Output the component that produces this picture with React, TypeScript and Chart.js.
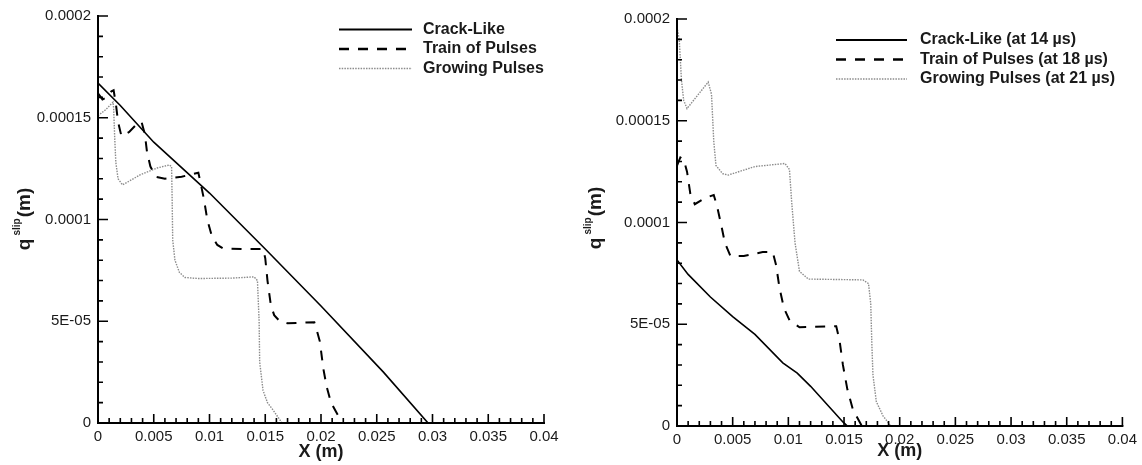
import React, { useEffect, useRef } from 'react';
import { Chart, registerables } from 'chart.js';

Chart.register(...registerables);

// ---------- axis ticks ----------
const xTickValues = [0, 0.005, 0.01, 0.015, 0.02, 0.025, 0.03, 0.035, 0.04];
const xTickLabels = ['0', '0.005', '0.01', '0.015', '0.02', '0.025', '0.03', '0.035', '0.04'];
const yTickValues = [0, 0.00005, 0.0001, 0.00015, 0.0002];
const yTickLabels = ['0', '5E-05', '0.0001', '0.00015', '0.0002'];
const xMinorCount = 40; // minor ticks every 0.001
const yMinorCount = 20; // minor ticks every 0.00001

// ---------- left panel ----------
const leftLabels = ['Crack-Like', 'Train of Pulses', 'Growing Pulses'];

const leftCrackX = [0, 0.002, 0.005, 0.01, 0.015, 0.02, 0.0256, 0.0296];
const leftCrackY = [0.000167, 0.000156, 0.000138, 0.000113, 0.0000855, 0.0000575, 0.000025, 0];

const leftTrainX = [0, 0.0004, 0.0008, 0.0012, 0.0014, 0.0016, 0.0018, 0.0021, 0.0028, 0.0035, 0.0039, 0.0042, 0.0044, 0.0047, 0.0052, 0.006, 0.0075, 0.009, 0.0092, 0.0095, 0.0098, 0.0102, 0.0107, 0.0112, 0.013, 0.0148, 0.015, 0.0152, 0.0155, 0.0158, 0.0163, 0.017, 0.0194, 0.0196, 0.0199, 0.0202, 0.0205, 0.0209, 0.0215, 0.022];
const leftTrainY = [0.000162, 0.000159, 0.00016, 0.000163, 0.0001635, 0.000157, 0.000148, 0.000141, 0.000143, 0.000147, 0.000148, 0.000142, 0.000133, 0.000126, 0.000121, 0.00012, 0.000121, 0.000123, 0.000118, 0.00011, 0.0001, 0.000092, 0.0000875, 0.0000858, 0.0000855, 0.0000855, 0.000081, 0.00007, 0.000058, 0.000053, 0.00005, 0.000049, 0.0000495, 0.000046, 0.00004, 0.000027, 0.000018, 0.00001, 0.000004, 0];

const leftGrowX = [0, 0.0007, 0.00135, 0.0014, 0.0015, 0.0016, 0.0018, 0.0022, 0.003, 0.0038, 0.0053, 0.0064, 0.0066, 0.00665, 0.0067, 0.0069, 0.0073, 0.0078, 0.009, 0.012, 0.014, 0.0143, 0.01445, 0.0145, 0.0148, 0.0152, 0.0157, 0.0165];
const leftGrowY = [0.000151, 0.000154, 0.0001577, 0.000155, 0.00014, 0.000128, 0.00012, 0.000117, 0.0001195, 0.000122, 0.0001253, 0.0001268, 0.000126, 0.00011, 0.00009, 0.00008, 0.000074, 0.0000715, 0.000071, 0.0000712, 0.0000718, 0.00007, 0.00005, 0.00003, 0.000016, 0.00001, 0.0000064, 0];

// ---------- right panel ----------
const rightLabels = ['Crack-Like (at 14 µs)', 'Train of Pulses (at 18 µs)', 'Growing Pulses (at 21 µs)'];

const rightCrackX = [0, 0.001, 0.003, 0.005, 0.007, 0.0095, 0.0108, 0.012, 0.0149, 0.0153];
const rightCrackY = [0.0000816, 0.0000745, 0.0000634, 0.0000537, 0.000045, 0.000031, 0.000026, 0.0000195, 0.000002, 0];

const rightTrainX = [0, 0.0003, 0.0006, 0.0009, 0.0012, 0.0016, 0.0025, 0.0033, 0.0036, 0.004, 0.0043, 0.0048, 0.006, 0.0077, 0.0086, 0.0089, 0.0092, 0.0096, 0.0101, 0.011, 0.0143, 0.0146, 0.0149, 0.0153, 0.0158, 0.0166];
const rightTrainY = [0.000128, 0.000132, 0.000131, 0.000125, 0.000114, 0.000109, 0.000112, 0.0001135, 0.000108, 0.000098, 0.00009, 0.0000835, 0.0000835, 0.0000855, 0.0000855, 0.000079, 0.000068, 0.000058, 0.000052, 0.0000485, 0.000049, 0.000042, 0.00003, 0.000018, 0.000008, 0];

const rightGrowX = [0, 0.0002, 0.0004, 0.0006, 0.0009, 0.0028, 0.0031, 0.0033, 0.0035, 0.0041, 0.0046, 0.007, 0.0097, 0.0101, 0.0103, 0.0106, 0.011, 0.0118, 0.0167, 0.0172, 0.0174, 0.0175, 0.0176, 0.0179, 0.0185, 0.0192];
const rightGrowY = [0.000196, 0.00019, 0.00017, 0.00016, 0.000156, 0.000169, 0.000163, 0.00014, 0.000128, 0.000124, 0.0001233, 0.0001275, 0.000129, 0.000126, 0.00011, 0.00009, 0.000076, 0.0000722, 0.0000718, 0.00007, 0.00006, 0.00004, 0.000025, 0.000012, 0.000005, 0];

const FONT = '"Liberation Sans", Arial, Helvetica, sans-serif';
const TEXT = '#1a1a1a';

const toPts = (xs: number[], ys: number[]) => xs.map((x, i) => ({ x, y: ys[i] }));

const styleSolid = { borderColor: '#000000', borderWidth: 1.6, borderDash: [] as number[], legendWidth: 2.2 };
const styleDash = { borderColor: '#000000', borderWidth: 2, borderDash: [10, 9], legendWidth: 2.4 };
const styleDot = { borderColor: '#8c8c8c', borderWidth: 1.4, borderDash: [1.5, 1.2], legendWidth: 1.6 };

const customPlugin = {
  id: 'customDecor',
  afterDatasetsDraw(chart: any, _args: any, o: any) {
    const { ctx, chartArea: a, scales } = chart;
    const xs = scales.x;
    const ys = scales.y;
    ctx.save();
    // axis lines
    ctx.strokeStyle = '#000';
    ctx.lineWidth = 2;
    ctx.setLineDash([]);
    ctx.beginPath();
    ctx.moveTo(a.left, a.top - 1);
    ctx.lineTo(a.left, a.bottom);
    ctx.lineTo(a.right + 1, a.bottom);
    ctx.stroke();
    // ticks (inward)
    ctx.lineWidth = 1.6;
    ctx.beginPath();
    for (let i = 0; i <= xMinorCount; i++) {
      const v = (i * (xTickValues[xTickValues.length - 1] - xTickValues[0])) / xMinorCount;
      const px = xs.getPixelForValue(v);
      const len = i % 5 === 0 ? 9 : 5;
      ctx.moveTo(px, a.bottom);
      ctx.lineTo(px, a.bottom - len);
    }
    for (let i = 0; i <= yMinorCount; i++) {
      const v = (i * (yTickValues[yTickValues.length - 1] - yTickValues[0])) / yMinorCount;
      const py = ys.getPixelForValue(v);
      const len = i % 5 === 0 ? 10 : 5;
      ctx.moveTo(a.left, py);
      ctx.lineTo(a.left + len, py);
    }
    ctx.stroke();

    // x title
    ctx.fillStyle = TEXT;
    ctx.font = `bold 18px ${FONT}`;
    ctx.textAlign = 'center';
    ctx.textBaseline = 'middle';
    ctx.fillText('X (m)', (a.left + a.right) / 2, o.xTitleY);

    // y title (rotated, with superscript)
    ctx.save();
    ctx.translate(o.yTitleX, (a.top + a.bottom) / 2 + o.yTitleShift);
    ctx.rotate(-Math.PI / 2);
    ctx.textAlign = 'center';
    ctx.textBaseline = 'alphabetic';
    ctx.font = `bold 19px ${FONT}`;
    ctx.fillText('q', -25, 0);
    ctx.font = `bold 10px ${FONT}`;
    ctx.fillText('slip', -7.5, -10);
    ctx.font = `bold 19px ${FONT}`;
    ctx.fillText('(m)', 17, 0);
    ctx.restore();

    // legend
    chart.data.datasets.forEach((ds: any, i: number) => {
      const y = o.legendY + i * o.legendRow;
      ctx.strokeStyle = ds.borderColor;
      ctx.lineWidth = ds.legendWidth;
      ctx.setLineDash(ds.borderDash || []);
      ctx.beginPath();
      ctx.moveTo(o.legendX, y);
      ctx.lineTo(o.legendX + o.legendLen, y);
      ctx.stroke();
      ctx.setLineDash([]);
      ctx.fillStyle = TEXT;
      ctx.font = `bold 16px ${FONT}`;
      ctx.textAlign = 'left';
      ctx.textBaseline = 'middle';
      ctx.fillText(ds.label, o.legendTextX, y);
    });
    ctx.restore();
  },
};

function makeConfig(
  labels: string[],
  series: { x: number[]; y: number[] }[],
  layout: { padRight: number; padTop: number; yWidth: number; xHeight: number },
  decor: any
): any {
  const styles = [styleSolid, styleDash, styleDot];
  return {
    type: 'line',
    data: {
      datasets: series.map((s, i) => ({
        label: labels[i],
        data: toPts(s.x, s.y),
        borderColor: styles[i].borderColor,
        borderWidth: styles[i].borderWidth,
        borderDash: styles[i].borderDash,
        legendWidth: styles[i].legendWidth,
        pointRadius: 0,
        tension: 0,
        fill: false,
      })),
    },
    options: {
      responsive: false,
      animation: false,
      events: [],
      layout: { padding: { left: 0, right: layout.padRight, top: layout.padTop, bottom: 0 } },
      plugins: {
        legend: { display: false },
        tooltip: { enabled: false },
        customDecor: decor,
      },
      scales: {
        x: {
          type: 'linear',
          min: xTickValues[0],
          max: xTickValues[xTickValues.length - 1],
          grid: { display: false, drawTicks: false },
          border: { display: false },
          afterBuildTicks: (scale: any) => {
            scale.ticks = xTickValues.map((v) => ({ value: v }));
          },
          afterFit: (scale: any) => {
            scale.height = layout.xHeight;
          },
          ticks: {
            padding: 5,
            maxRotation: 0,
            autoSkip: false,
            color: TEXT,
            font: { family: FONT, size: 15 },
            callback: (_v: any, i: number) => xTickLabels[i],
          },
        },
        y: {
          type: 'linear',
          min: yTickValues[0],
          max: yTickValues[yTickValues.length - 1],
          grid: { display: false, drawTicks: false },
          border: { display: false },
          afterBuildTicks: (scale: any) => {
            scale.ticks = yTickValues.map((v) => ({ value: v }));
          },
          afterFit: (scale: any) => {
            scale.width = layout.yWidth;
          },
          ticks: {
            padding: 7,
            autoSkip: false,
            color: TEXT,
            font: { family: FONT, size: 15 },
            callback: (_v: any, i: number) => yTickLabels[i],
          },
        },
      },
    },
    plugins: [customPlugin],
  };
}

export default function App() {
  const leftRef = useRef<HTMLCanvasElement>(null);
  const rightRef = useRef<HTMLCanvasElement>(null);

  useEffect(() => {
    const left = new Chart(
      leftRef.current as HTMLCanvasElement,
      makeConfig(
        leftLabels,
        [
          { x: leftCrackX, y: leftCrackY },
          { x: leftTrainX, y: leftTrainY },
          { x: leftGrowX, y: leftGrowY },
        ],
        { padRight: 27, padTop: 16, yWidth: 98, xHeight: 42 },
        { xTitleY: 452, yTitleX: 30, yTitleShift: 0, legendX: 339, legendLen: 73, legendTextX: 423, legendY: 29.5, legendRow: 19.5 }
      )
    );
    const right = new Chart(
      rightRef.current as HTMLCanvasElement,
      makeConfig(
        rightLabels,
        [
          { x: rightCrackX, y: rightCrackY },
          { x: rightTrainX, y: rightTrainY },
          { x: rightGrowX, y: rightGrowY },
        ],
        { padRight: 19, padTop: 19, yWidth: 106, xHeight: 39 },
        { xTitleY: 451, yTitleX: 30, yTitleShift: -4, legendX: 265, legendLen: 71, legendTextX: 349, legendY: 40, legendRow: 19.5 }
      )
    );
    return () => {
      left.destroy();
      right.destroy();
    };
  }, []);

  return (
    <div style={{ position: 'absolute', left: 0, top: 0, width: 1142, height: 465, background: '#fff', overflow: 'hidden' }}>
      <canvas ref={leftRef} width={571} height={465} style={{ position: 'absolute', left: 0, top: 0, width: 571, height: 465 }} />
      <canvas ref={rightRef} width={571} height={465} style={{ position: 'absolute', left: 571, top: 0, width: 571, height: 465 }} />
    </div>
  );
}
